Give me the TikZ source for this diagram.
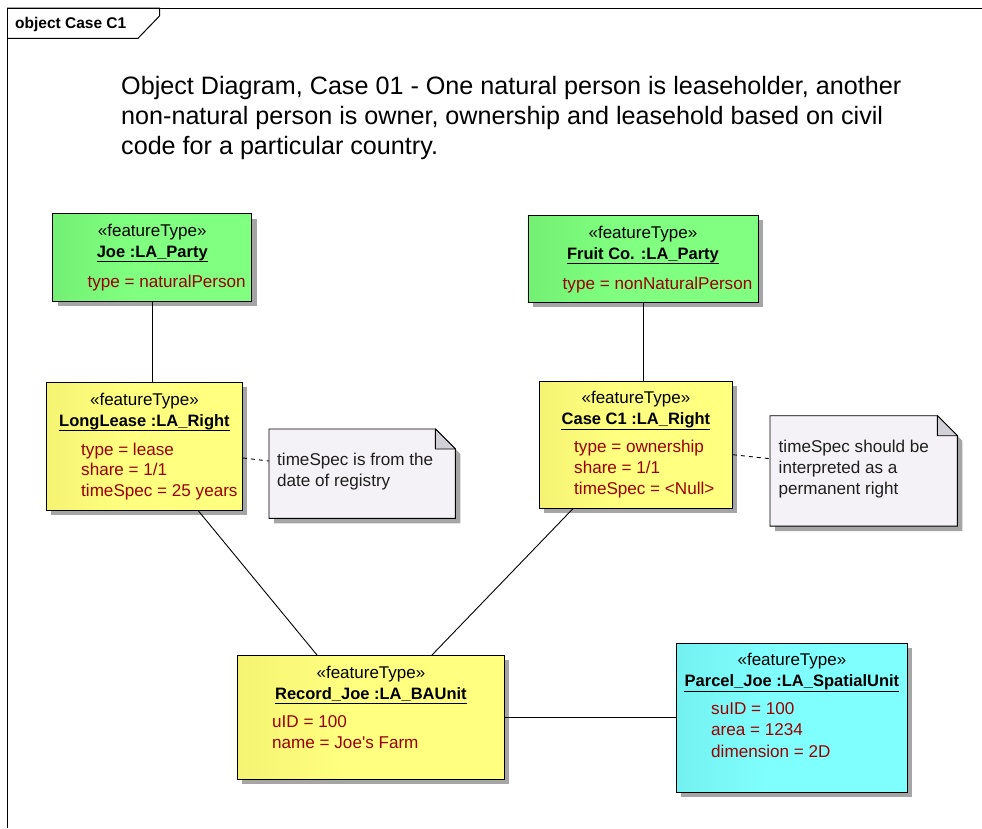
\documentclass[tikz,border=0pt]{standalone}
\usepackage{fontspec}
\setmainfont{Liberation Sans}
\usetikzlibrary{shadows,calc}

\definecolor{grnD}{RGB}{100,222,100}
\definecolor{grnL}{RGB}{128,255,128}
\definecolor{ylwD}{RGB}{232,228,96}
\definecolor{ylwL}{RGB}{255,255,128}
\definecolor{cynD}{RGB}{100,222,222}
\definecolor{cynL}{RGB}{128,255,255}
\definecolor{attrred}{RGB}{153,0,0}
\definecolor{notebg}{RGB}{245,242,247}
\definecolor{foldbg}{RGB}{208,208,214}
\definecolor{shadowgray}{RGB}{165,165,165}
\definecolor{notetext}{RGB}{30,30,30}

\pgfdeclarehorizontalshading{greenfill}{100bp}{color(0bp)=(grnD); color(45bp)=(grnL); color(100bp)=(grnL)}
\pgfdeclarehorizontalshading{yellowfill}{100bp}{color(0bp)=(ylwD); color(45bp)=(ylwL); color(100bp)=(ylwL)}
\pgfdeclarehorizontalshading{cyanfill}{100bp}{color(0bp)=(cynD); color(45bp)=(cynL); color(100bp)=(cynL)}

\tikzset{
  objbox/.style={draw=black, line width=0.9pt, anchor=north west, inner sep=0pt,
    drop shadow={shadow xshift=5pt, shadow yshift=-5pt, fill=shadowgray, opacity=1}},
  greenobj/.style={objbox, shading=greenfill},
  yellowobj/.style={objbox, shading=yellowfill},
  cyanobj/.style={objbox, shading=cyanfill},
  stereo/.style={anchor=base, inner sep=0pt, font=\fontsize{17}{20}\selectfont},
  oname/.style={anchor=base, inner sep=0pt, font=\fontsize{16.5}{20}\selectfont\bfseries},
  attr/.style={anchor=base west, inner sep=0pt, text=attrred, font=\fontsize{17.1}{20}\selectfont},
  notetxt/.style={anchor=base west, inner sep=0pt, text=notetext, font=\fontsize{17.1}{20}\selectfont},
  uline/.style={line width=1pt},
  link/.style={line width=0.9pt},
  notelink/.style={line width=0.9pt, dash pattern=on 4pt off 4pt},
  noteframe/.style={anchor=north west, inner sep=0pt},
}

% place stereotype + underlined name inside an object box
\newcommand{\objhead}[2]{%
  \node[stereo] (#1-st) at ($(#1.north)+(0,23)$) {«featureType»};
  \node[oname] (#1-nm) at ($(#1.north)+(0,44)$) {#2};
  \draw[uline] ($(#1-nm.base west)+(0,4.5)$) -- ($(#1-nm.base east)+(0,4.5)$);
}
% folded-corner note outline around an invisible node
\newcommand{\notebody}[1]{%
  \fill[shadowgray] ($(#1.north west)+(5,5)$) -- ($(#1.north east)+(-15,5)$) -- ($(#1.north east)+(5,25)$)
     -- ($(#1.south east)+(5,5)$) -- ($(#1.south west)+(5,5)$) -- cycle;
  \filldraw[fill=notebg, draw=black, line width=0.9pt] (#1.north west) -- ($(#1.north east)+(-20,0)$)
     -- ($(#1.north east)+(0,20)$) -- (#1.south east) -- (#1.south west) -- cycle;
  \filldraw[fill=foldbg, draw=black, line width=0.9pt, line join=round] ($(#1.north east)+(-20,0)$)
     -- ($(#1.north east)+(-20,20)$) -- ($(#1.north east)+(0,20)$) -- cycle;
}

\begin{document}
\begin{tikzpicture}[x=1pt, y=-1pt]
\useasboundingbox (0,0) rectangle (982,828);
\fill[white] (0,0) rectangle (982,828);

% diagram frame and its name tab
\draw[line width=1pt] (7,828) -- (7,8) -- (982,8);
\draw[line width=1pt] (7,8) -- (159.5,8) -- (159.5,16) -- (138,38.3) -- (7,38.3);
\node[anchor=base west, inner sep=0pt, font=\fontsize{15.5}{18}\selectfont\bfseries] (tab) at (15,28.5) {object Case C1};

% heading
\node[anchor=north west, inner sep=0pt, align=left, font=\fontsize{25.15}{30}\selectfont] (title) at (121,76.5)
  {Object Diagram, Case 01 - One natural person is leaseholder, another\\
   non-natural person is owner, ownership and leasehold based on civil\\
   code for a particular country.};

% object boxes
\node[greenobj, minimum width=199pt, minimum height=87.5pt] (joe) at (52.3,213.3) {};
\node[greenobj, minimum width=230pt, minimum height=87pt] (fruit) at (527.5,215) {};
\node[yellowobj, minimum width=196pt, minimum height=127.5pt] (ll) at (46,382) {};
\node[yellowobj, minimum width=193pt, minimum height=127pt] (c1) at (539,380.7) {};
\node[yellowobj, minimum width=267pt, minimum height=124pt] (rec) at (237,655) {};
\node[cyanobj, minimum width=231pt, minimum height=149pt] (par) at (676,642.7) {};

% notes
\node[noteframe, minimum width=186pt, minimum height=89pt] (n1) at (269,429) {};
\node[noteframe, minimum width=187pt, minimum height=110pt] (n2) at (770,415.7) {};
\notebody{n1}
\notebody{n2}

% links
\draw[link] (joe.south) -- (joe.south |- ll.north);
\draw[link] (fruit.south) -- (fruit.south |- c1.north);
\draw[link] ($(ll.south west)+(152,0)$) -- ($(rec.north west)+(80,0)$);
\draw[link] ($(c1.south west)+(34,0)$) -- ($(rec.north west)+(195,0)$);
\draw[link] (rec.east) -- (rec.east -| par.west);
\draw[notelink] ($(ll.north east)+(0,76)$) -- ($(n1.north west)+(0,32)$);
\draw[notelink] ($(c1.north east)+(0,74)$) -- ($(n2.north west)+(0,43)$);

% box contents
\objhead{joe}{Joe :LA\_Party}
\node[attr] (joe-a0) at ($(joe.north west)+(35,74)$) {type = naturalPerson};

\objhead{fruit}{Fruit Co. :LA\_Party}
\node[attr] (fruit-a0) at ($(fruit.north west)+(35,74)$) {type = nonNaturalPerson};

\objhead{ll}{LongLease :LA\_Right}
\foreach \t [count=\i from 0] in {type = lease, share = 1/1, timeSpec = 25 years}
  \node[attr] (ll-a\i) at ($(ll.north west)+(35,73+20.7*\i)$) {\t};

\objhead{c1}{Case C1 :LA\_Right}
\foreach \t [count=\i from 0] in {type = ownership, share = 1/1, timeSpec = <Null>}
  \node[attr] (c1-a\i) at ($(c1.north west)+(35,72+20.7*\i)$) {\t};

\objhead{rec}{Record\_Joe :LA\_BAUnit}
\foreach \t [count=\i from 0] in {uID = 100, name = Joe\textquotesingle s Farm}
  \node[attr] (rec-a\i) at ($(rec.north west)+(35,72.7+20.7*\i)$) {\t};

\objhead{par}{Parcel\_Joe :LA\_SpatialUnit}
\foreach \t [count=\i from 0] in {suID = 100, area = 1234, dimension = 2D}
  \node[attr] (par-a\i) at ($(par.north west)+(35,71.3+21.5*\i)$) {\t};

% note texts
\node[notetxt] (n1-l0) at ($(n1.north west)+(8,36)$) {timeSpec is from the};
\node[notetxt] (n1-l1) at ($(n1.north west)+(8,57)$) {date of registry};
\node[notetxt] (n2-l0) at ($(n2.north west)+(8.5,37)$) {timeSpec should be};
\node[notetxt] (n2-l1) at ($(n2.north west)+(8.5,58)$) {interpreted as a};
\node[notetxt] (n2-l2) at ($(n2.north west)+(8.5,78.5)$) {permanent right};
\end{tikzpicture}
\end{document}
